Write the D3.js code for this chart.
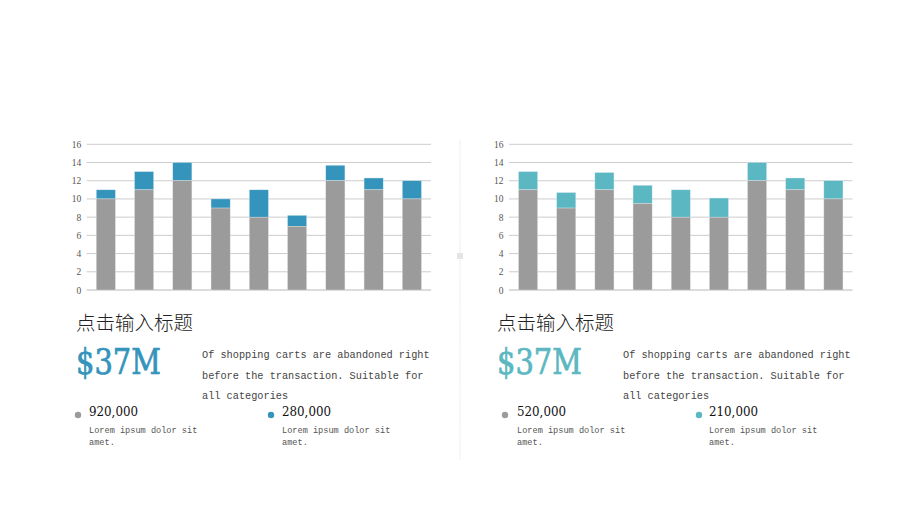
<!DOCTYPE html>
<html>
<head>
<meta charset="utf-8">
<title>Shopping carts panels</title>
<script src="https://cdn.jsdelivr.net/npm/d3@7/dist/d3.min.js"></script>
<style>
  body { margin: 0; background: #fff; }
  svg { display: block; }
</style>
</head>
<body>
<svg id="chart" width="920" height="518"></svg>
<script>
// categories (unlabelled in the picture)
const categories = ["c1", "c2", "c3", "c4", "c5", "c6", "c7", "c8", "c9"];
const yTicks = [0, 2, 4, 6, 8, 10, 12, 14, 16];

// left panel: gray base and the blue total on top
const leftBase = [10, 11, 12, 9, 8, 7, 12, 11, 10];
const leftTotal = [11, 13, 14, 10, 11, 8.2, 13.7, 12.3, 12];

// right panel: gray base and the teal total on top
const rightBase = [11, 9, 11, 9.5, 8, 8, 12, 11, 10];
const rightTotal = [13, 10.7, 12.9, 11.5, 11, 10.1, 14, 12.3, 12];

const panelTitle = "点击输入标题";
const bigNumber = "$37M";
const descLines = ["Of shopping carts are abandoned right", "before the transaction. Suitable for", "all categories"];
const leftStats = ["920,000", "280,000"];
const rightStats = ["520,000", "210,000"];
const statNote = ["Lorem ipsum dolor sit", "amet."];

const svg = d3.select("#chart");
const GRAY = "#9b9b9b";

function drawPanel(opt) {
  const g = svg.append("g");
  const x = d3.scaleBand().domain(categories).range([opt.x0, opt.x1]).paddingInner(0.5).paddingOuter(0.25);
  const y = d3.scaleLinear().domain([0, 16]).range([290, 144.3]);

  // gridlines
  g.selectAll("line.grid").data(yTicks).enter().append("line")
    .attr("x1", opt.x0).attr("x2", opt.x1)
    .attr("y1", d => y(d)).attr("y2", d => y(d))
    .attr("stroke", d => d === 0 ? "#b8b8b8" : "#cdcdcd")
    .attr("stroke-width", 1);

  // y axis labels
  const axis = d3.axisLeft(y).tickValues(yTicks).tickSize(0).tickPadding(0);
  const ag = g.append("g").attr("transform", "translate(" + (opt.x0 - 5.5) + ",0)").call(axis);
  ag.select(".domain").remove();
  ag.selectAll("text").attr("font-family", "Liberation Serif, serif").attr("font-size", 9.5).attr("fill", "#555");

  const rows = categories.map((c, i) => ({ c: c, base: opt.base[i], total: opt.total[i] }));

  g.selectAll("rect.top").data(rows).enter().append("rect")
    .attr("x", d => x(d.c)).attr("width", x.bandwidth())
    .attr("y", d => y(d.total)).attr("height", d => y(d.base) - y(d.total))
    .attr("fill", opt.color)
    .attr("stroke", "#d8ecf2").attr("stroke-width", 0.4);

  g.selectAll("rect.base").data(rows).enter().append("rect")
    .attr("x", d => x(d.c)).attr("width", x.bandwidth())
    .attr("y", d => y(d.base)).attr("height", d => y(0) - y(d.base))
    .attr("fill", GRAY)
    .attr("stroke", "#e4e4e4").attr("stroke-width", 0.4);

  // texts
  g.append("text").attr("x", opt.tx).attr("y", 330)
    .attr("font-family", "Noto Sans CJK SC, sans-serif").attr("font-weight", 300)
    .attr("font-size", 19.5).attr("fill", "#222").text(panelTitle);

  g.append("text").attr("x", opt.tx).attr("y", 374)
    .attr("font-family", "DejaVu Serif Condensed, DejaVu Serif, serif").attr("font-size", 36)
    .attr("textLength", 85).attr("lengthAdjust", "spacingAndGlyphs")
    .attr("fill", opt.color).attr("stroke", opt.color).attr("stroke-width", 0.7)
    .text(bigNumber);

  g.selectAll("text.desc").data(descLines).enter().append("text")
    .attr("x", opt.dx).attr("y", (d, i) => 358 + i * 20.5)
    .attr("font-family", "Liberation Mono, monospace").attr("font-size", 10.25)
    .attr("fill", "#444").text(d => d);

  opt.stats.forEach((s, k) => {
    const cx = opt.statX[k];
    g.append("circle").attr("cx", cx[0]).attr("cy", 415).attr("r", 3.2)
      .attr("fill", k === 0 ? GRAY : opt.color);
    g.append("text").attr("x", cx[1]).attr("y", 416)
      .attr("font-family", "DejaVu Serif Condensed, DejaVu Serif, serif").attr("font-size", 13)
      .attr("textLength", 49).attr("lengthAdjust", "spacingAndGlyphs")
      .attr("fill", "#111").text(s);
    g.selectAll(null).data(statNote).enter().append("text")
      .attr("x", cx[1]).attr("y", (d, i) => 433 + i * 11.5)
      .attr("font-family", "Liberation Mono, monospace").attr("font-size", 8.6)
      .attr("fill", "#555").text(d => d);
  });
}

drawPanel({ x0: 86.7, x1: 431, base: leftBase, total: leftTotal, color: "#3494bb",
  tx: 76, dx: 202, stats: leftStats, statX: [[78, 89], [271, 282]] });
drawPanel({ x0: 509, x1: 852.5, base: rightBase, total: rightTotal, color: "#5bb7c1",
  tx: 497, dx: 623, stats: rightStats, statX: [[505, 517], [699, 709]] });

// centre divider
svg.append("line").attr("x1", 460).attr("x2", 460).attr("y1", 140).attr("y2", 460)
  .attr("stroke", "#e6e6e6").attr("stroke-width", 1).attr("stroke-dasharray", "1.5,1");
svg.append("rect").attr("x", 457).attr("y", 253).attr("width", 6).attr("height", 6).attr("fill", "#e4e4e4");
</script>
</body>
</html>
